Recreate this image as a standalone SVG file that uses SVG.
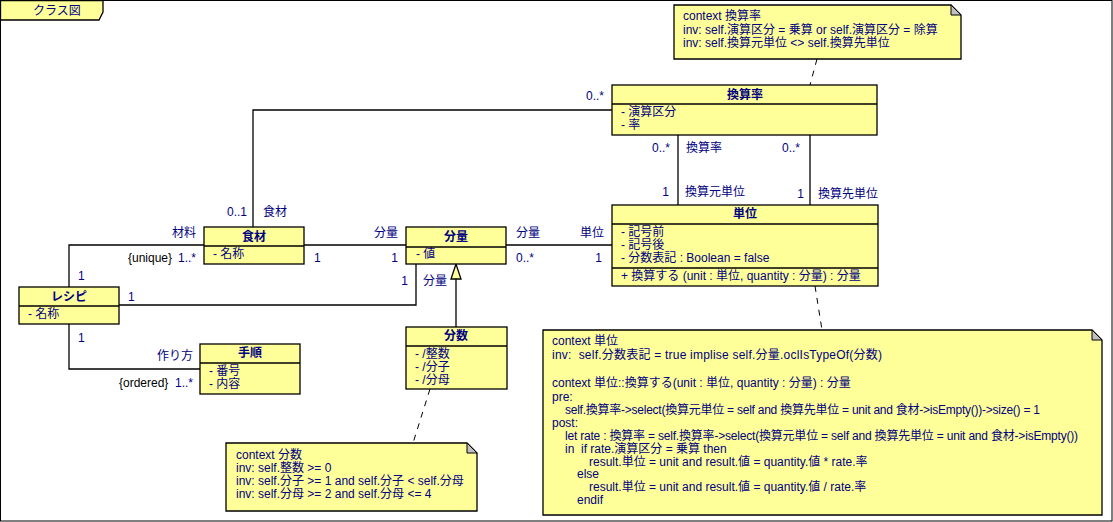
<svg xmlns="http://www.w3.org/2000/svg" width="1113" height="522" viewBox="0 0 1113 522">
<style>
.t{font-family:"Liberation Sans","Noto Sans CJK JP",sans-serif;font-size:12px;fill:#000080;white-space:pre}
.b{font-weight:bold;text-anchor:middle}
.r{text-anchor:end}
.k{fill:#000000}
.box{fill:#FFFF99;stroke:#000;stroke-width:1.3}
.ln{fill:none;stroke:#000;stroke-width:1.3}
.dash{fill:none;stroke:#000;stroke-width:1;stroke-dasharray:6,6}
.fold{fill:#C0C0C0;stroke:#000;stroke-width:1}
</style>
<rect x="0.5" y="0.5" width="1111.5" height="520.5" fill="#FFFFFF" stroke="#000" stroke-width="1"/>
<g id="frame-tab">
<polygon points="0.5,0.5 103,0.5 103,12 99,20 0.5,20" class="box"/>
<text class="t" x="33" y="15">クラス図</text>
</g>
<g id="connectors">
<polyline class="ln" points="253,227 253,110 612,110"/>
<line class="ln" x1="678" y1="135" x2="678" y2="205"/>
<line class="ln" x1="810" y1="135" x2="810" y2="205"/>
<line class="ln" x1="304" y1="245" x2="406" y2="245"/>
<line class="ln" x1="506" y1="245" x2="612" y2="245"/>
<polyline class="ln" points="416,264 416,305 119,305"/>
<polyline class="ln" points="69,287 69,245 204,245"/>
<polyline class="ln" points="69,324 69,369 200,369"/>
<line class="ln" x1="456" y1="279" x2="456" y2="327"/>
<polygon points="456,264 451,279 461,279" fill="#FFFF99" stroke="#000" stroke-width="1.3"/>
<line class="dash" x1="817" y1="59" x2="810" y2="85"/>
<line class="dash" x1="815" y1="286" x2="822" y2="330"/>
<line class="dash" x1="430" y1="389" x2="413" y2="443"/>
<text class="t r" x="604" y="100">0..*</text>
<text class="t r" x="247" y="216">0..1</text>
<text class="t" x="263" y="216">食材</text>
<text class="t r" x="670" y="152">0..*</text>
<text class="t" x="686" y="152">換算率</text>
<text class="t r" x="800" y="152">0..*</text>
<text class="t r" x="669" y="196">1</text>
<text class="t" x="685" y="196">換算元単位</text>
<text class="t r" x="804" y="198">1</text>
<text class="t" x="818" y="198">換算先単位</text>
<text class="t r" x="398" y="237">分量</text>
<text class="t" x="314" y="262">1</text>
<text class="t r" x="398" y="262">1</text>
<text class="t" x="516" y="237">分量</text>
<text class="t r" x="604" y="237">単位</text>
<text class="t" x="516" y="262">0..*</text>
<text class="t r" x="602" y="262">1</text>
<text class="t r" x="408" y="285">1</text>
<text class="t" x="423" y="285">分量</text>
<text class="t r" x="196" y="237">材料</text>
<text class="t k" x="128" y="262">{unique}</text>
<text class="t r" x="196" y="262">1..*</text>
<text class="t" x="78" y="280">1</text>
<text class="t" x="128" y="301">1</text>
<text class="t" x="78" y="342">1</text>
<text class="t r" x="193" y="360">作り方</text>
<text class="t k" x="119" y="387">{ordered}</text>
<text class="t r" x="193" y="387">1..*</text>
</g>
<g id="kansanritsu">
<rect class="box" x="612" y="85" width="265" height="50"/>
<line class="ln" x1="612" y1="104" x2="877" y2="104"/>
<text class="t b" x="745" y="99">換算率</text>
<text class="t" x="621" y="116">- 演算区分</text>
<text class="t" x="621" y="129">- 率</text>
</g>
<g id="tani">
<rect class="box" x="612" y="205" width="266" height="81"/>
<line class="ln" x1="612" y1="224" x2="878" y2="224"/>
<line class="ln" x1="612" y1="268" x2="878" y2="268"/>
<text class="t b" x="745" y="218">単位</text>
<text class="t" x="621" y="236">- 記号前</text>
<text class="t" x="621" y="249">- 記号後</text>
<text class="t" x="621" y="262">- 分数表記 : Boolean = false</text>
<text class="t" x="621" y="280">+ 換算する (unit : 単位, quantity : 分量) : 分量</text>
</g>
<g id="shokuzai">
<rect class="box" x="204" y="227" width="100" height="37"/>
<line class="ln" x1="204" y1="246" x2="304" y2="246"/>
<text class="t b" x="254" y="241">食材</text>
<text class="t" x="213" y="258">- 名称</text>
</g>
<g id="bunryo">
<rect class="box" x="406" y="227" width="100" height="37"/>
<line class="ln" x1="406" y1="247" x2="506" y2="247"/>
<text class="t b" x="456" y="241">分量</text>
<text class="t" x="416" y="258">- 値</text>
</g>
<g id="recipe">
<rect class="box" x="19" y="287" width="100" height="37"/>
<line class="ln" x1="19" y1="306" x2="119" y2="306"/>
<text class="t b" x="69" y="301">レシピ</text>
<text class="t" x="28" y="318">- 名称</text>
</g>
<g id="tejun">
<rect class="box" x="200" y="344" width="100" height="50"/>
<line class="ln" x1="200" y1="363" x2="300" y2="363"/>
<text class="t b" x="250" y="357">手順</text>
<text class="t" x="209" y="375">- 番号</text>
<text class="t" x="209" y="388">- 内容</text>
</g>
<g id="bunsu">
<rect class="box" x="406" y="327" width="101" height="62"/>
<line class="ln" x1="406" y1="346" x2="507" y2="346"/>
<text class="t b" x="456" y="340">分数</text>
<text class="t" x="415" y="358">- /整数</text>
<text class="t" x="415" y="371">- /分子</text>
<text class="t" x="415" y="384">- /分母</text>
</g>
<g id="note-kansanritsu">
<polygon class="box" points="674,5 951,5 961,15 961,59 674,59"/>
<polygon class="fold" points="951,5 951,15 961,15"/>
<text class="t" x="683" y="20">context 換算率</text>
<text class="t" x="683" y="34">inv: self.演算区分 = 乗算 or self.演算区分 = 除算</text>
<text class="t" x="683" y="47">inv: self.換算元単位 &lt;&gt; self.換算先単位</text>
</g>
<g id="note-bunsu">
<polygon class="box" points="226,443 467,443 477,453 477,511 226,511"/>
<polygon class="fold" points="467,443 467,453 477,453"/>
<text class="t" x="236" y="459">context 分数</text>
<text class="t" x="236" y="472">inv: self.整数 &gt;= 0</text>
<text class="t" x="236" y="485">inv: self.分子 &gt;= 1 and self.分子 &lt; self.分母</text>
<text class="t" x="236" y="498">inv: self.分母 &gt;= 2 and self.分母 &lt;= 4</text>
</g>
<g id="note-tani">
<polygon class="box" points="543,330 1092,330 1102,340 1102,515 543,515"/>
<polygon class="fold" points="1092,330 1092,340 1102,340"/>
<text class="t" x="552" y="345">context 単位</text>
<text class="t" x="552" y="359" textLength="330" lengthAdjust="spacing">inv:  self.分数表記 = true implise self.分量.oclIsTypeOf(分数)</text>
<text class="t" x="552" y="387">context 単位::換算する(unit : 単位, quantity : 分量) : 分量</text>
<text class="t" x="552" y="401">pre:</text>
<text class="t" x="565" y="414" textLength="475" lengthAdjust="spacing">self.換算率-&gt;select(換算元単位 = self and 換算先単位 = unit and 食材-&gt;isEmpty())-&gt;size() = 1</text>
<text class="t" x="552" y="427">post:</text>
<text class="t" x="565" y="440" textLength="513" lengthAdjust="spacing">let rate : 換算率 = self.換算率-&gt;select(換算元単位 = self and 換算先単位 = unit and 食材-&gt;isEmpty())</text>
<text class="t" x="565" y="453">in  if rate.演算区分 = 乗算 then</text>
<text class="t" x="589" y="466">result.単位 = unit and result.値 = quantity.値 * rate.率</text>
<text class="t" x="577" y="478">else</text>
<text class="t" x="589" y="491">result.単位 = unit and result.値 = quantity.値 / rate.率</text>
<text class="t" x="577" y="504">endif</text>
</g>
</svg>
